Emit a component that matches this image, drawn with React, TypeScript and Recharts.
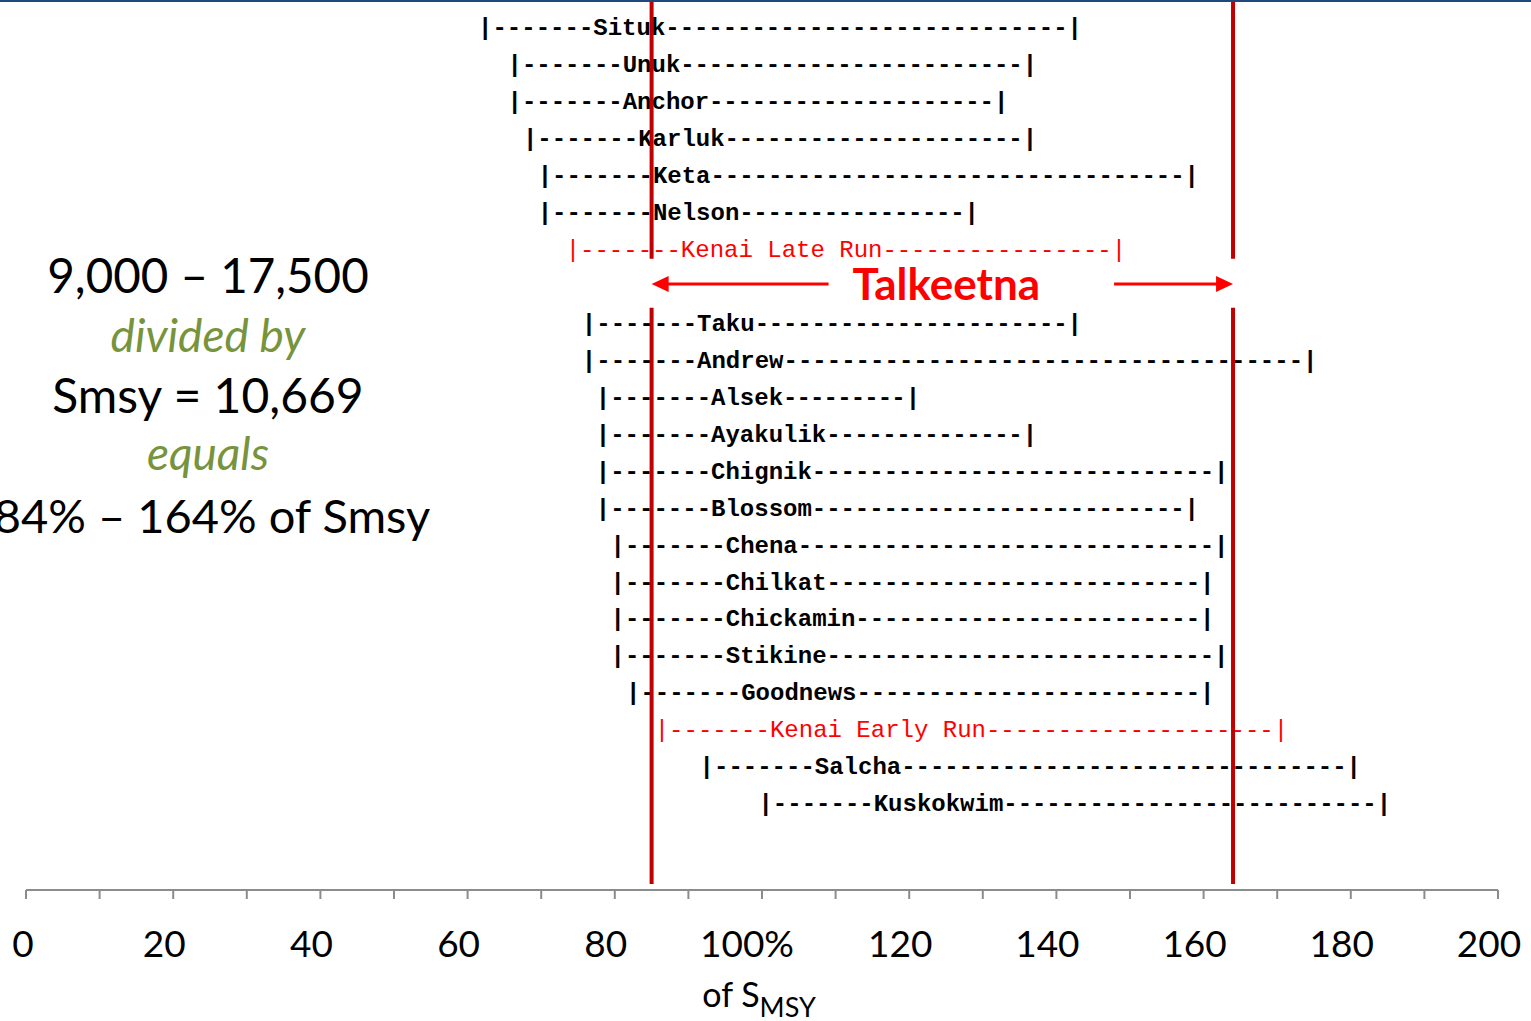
import React from "react"
import { ComposedChart, Bar, XAxis, YAxis, ReferenceLine } from "recharts"

// escapement goal ranges, as % of Smsy
const sites = [
  "Situk", "Unuk", "Anchor", "Karluk", "Keta", "Nelson", "Kenai Late Run",
  "Taku", "Andrew", "Alsek", "Ayakulik", "Chignik", "Blossom", "Chena",
  "Chilkat", "Chickamin", "Stikine", "Goodnews", "Kenai Early Run", "Salcha", "Kuskokwim",
]
const lowPct = [62.4, 66.4, 66.4, 68.5, 70.5, 70.5, 74.3, 76.5, 76.5, 78.4, 78.4, 78.4, 78.4, 80.4, 80.4, 80.4, 80.4, 82.5, 86.4, 92.5, 100.5]
const highPct = [142.5, 136.4, 132.5, 136.4, 158.4, 128.5, 148.5, 142.5, 174.5, 120.5, 136.4, 162.4, 158.4, 162.4, 160.5, 160.5, 162.4, 160.5, 170.5, 180.4, 184.5]
const redSites = ["Kenai Late Run", "Kenai Early Run"]

// Talkeetna goal range
const goalName = "Talkeetna"
const goalLow = 85
const goalHigh = 164
const goalAfter = "Kenai Late Run"

const xTicks = [0, 10, 20, 30, 40, 50, 60, 70, 80, 90, 100, 110, 120, 130, 140, 150, 160, 170, 180, 190, 200]

const rows: any[] = []
sites.forEach((s, i) => {
  rows.push({ name: s, range: [lowPct[i], highPct[i]], red: redSites.includes(s) })
  if (s === goalAfter) rows.push({ name: goalName, range: [goalLow, goalHigh], goal: true })
})
const goalIndex = rows.findIndex((r) => r.goal)

const W = 1531
const H = 1021
const PAD_TOP = 6.5
const PAD_BOTTOM = 68.5
const FS = 24
const CW = FS * 0.6
const RED = "#ff0000"
const DARK_RED = "#c00000"
const GREEN = "#77933c"
const AXIS = "#8c8c8c"
const SANS = "Lato, 'Open Sans', sans-serif"
const MONO = "'Liberation Mono', 'Courier New', monospace"

function RowShape(props: any) {
  const { x, y, width, height, payload } = props
  const cy = y + height / 2
  const x0 = x
  const x1 = x + width
  if (payload.goal) {
    const ay = cy - 2
    return (
      <g>
        <line x1={x0 + 14} y1={ay} x2={x0 + 177} y2={ay} stroke={RED} strokeWidth={3} />
        <polygon points={`${x0},${ay} ${x0 + 17},${ay - 8} ${x0 + 17},${ay + 8}`} fill={RED} />
        <text x={x0 + 201} y={cy + 14} fill={RED} fontFamily={SANS} fontWeight="bold" fontSize={44}>
          {payload.name}
        </text>
        <line x1={x1 - 119} y1={ay} x2={x1 - 14} y2={ay} stroke={RED} strokeWidth={3} />
        <polygon points={`${x1},${ay} ${x1 - 17},${ay - 8} ${x1 - 17},${ay + 8}`} fill={RED} />
      </g>
    )
  }
  const color = payload.red ? RED : "#000"
  const weight = payload.red ? "normal" : "bold"
  const head = "|-------" + payload.name
  const sx = x0 - CW / 2
  const tailStart = sx + head.length * CW
  const tailEnd = x1 - CW / 2
  const n = Math.max(0, Math.round((tailEnd - tailStart) / CW))
  const base = cy + 8
  return (
    <g fill={color} fontFamily={MONO} fontWeight={weight} fontSize={FS}>
      <text x={sx} y={base} xmlSpace="preserve">{head}</text>
      {n > 0 && (
        <text x={tailStart} y={base} textLength={tailEnd - tailStart} lengthAdjust="spacing">
          {"-".repeat(n)}
        </text>
      )}
      <text x={x1} y={base} textAnchor="middle">|</text>
    </g>
  )
}

// red goal line, broken where the Talkeetna arrows sit
function GoalLine(props: any) {
  const { x1, y1, y2 } = props
  const top = Math.min(y1, y2)
  const bottom = Math.max(y1, y2)
  const band = (bottom - top - PAD_TOP - PAD_BOTTOM) / rows.length
  const gc = top + PAD_TOP + band * (goalIndex + 0.5)
  return (
    <g stroke={DARK_RED} strokeWidth={4}>
      <line x1={x1} y1={top} x2={x1} y2={gc - 27} />
      <line x1={x1} y1={gc + 22} x2={x1} y2={bottom - 6} />
    </g>
  )
}

function Tick(props: any) {
  const { x, y, payload } = props
  const v = payload.value
  if (v % 20 !== 0) return null
  const dx = v === 0 ? -3 : v === 100 ? -15 : -9
  return (
    <text x={x + dx} y={y + 56} textAnchor="middle" fontFamily={SANS} fontSize={37} fill="#000">
      {v === 100 ? "100%" : v}
    </text>
  )
}

function AxisTitle(props: any) {
  const vb = props.viewBox
  const cx = vb.x + vb.width / 2
  return (
    <text x={cx - 3} y={vb.y + 117} textAnchor="middle" fontFamily={SANS} fill="#000">
      <tspan fontSize={34}>of S</tspan>
      <tspan fontSize={27} dy={10}>MSY</tspan>
    </text>
  )
}

export default function App() {
  return (
    <div style={{ position: "absolute", left: 0, top: 0, width: W, height: H, background: "#fff", overflow: "hidden" }}>
      <ComposedChart
        width={W}
        height={H}
        data={rows}
        layout="vertical"
        margin={{ top: 2, right: 33, bottom: 91, left: 26 }}
      >
        <XAxis
          type="number"
          domain={[0, 200]}
          ticks={xTicks}
          interval={0}
          height={40}
          axisLine={{ stroke: AXIS, strokeWidth: 2 }}
          tickLine={{ stroke: AXIS, strokeWidth: 2 }}
          tickSize={9}
          tick={<Tick />}
          label={{ content: <AxisTitle /> }}
        />
        <YAxis type="category" dataKey="name" hide padding={{ top: PAD_TOP, bottom: PAD_BOTTOM }} />
        <Bar dataKey="range" shape={<RowShape />} isAnimationActive={false} />
        <ReferenceLine x={goalLow} stroke={DARK_RED} shape={GoalLine} />
        <ReferenceLine x={goalHigh} stroke={DARK_RED} shape={GoalLine} />
      </ComposedChart>
      <svg width={W} height={H} style={{ position: "absolute", left: 0, top: 0, pointerEvents: "none" }}>
        <rect x={0} y={0} width={W} height={2} fill="#1f497d" />
        <g fontFamily={SANS} textAnchor="middle">
          <text x={208} y={293} fontSize={47.5} fill="#000">9,000 – 17,500</text>
          <text x={208} y={352} fontSize={46} fontStyle="italic" fill={GREEN}>divided by</text>
          <text x={208} y={413} fontSize={48} fill="#000">Smsy = 10,669</text>
          <text x={208} y={470} fontSize={46} fontStyle="italic" fill={GREEN}>equals</text>
          <text x={212} y={533} fontSize={47} fill="#000">84% – 164% of Smsy</text>
        </g>
      </svg>
    </div>
  )
}
